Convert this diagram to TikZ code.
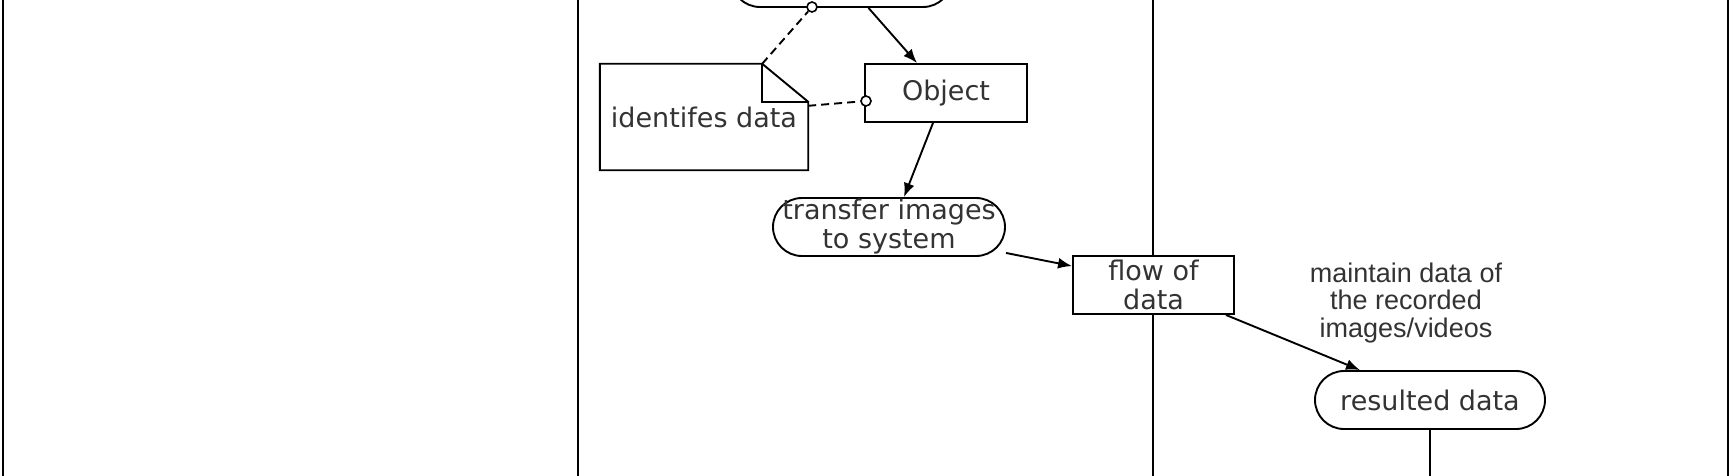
\documentclass[tikz,border=0pt]{standalone}
\usepackage{fontspec}
\setmainfont{DejaVu Sans}
\newfontfamily\labelfont{Liberation Sans}
\usetikzlibrary{arrows.meta}

\begin{document}
\begin{tikzpicture}[x=1pt, y=-1pt, >={Latex[length=14pt,width=11pt]},
  every node/.style={font=\fontsize{27}{29}\selectfont, text=black!80},
  box/.style={draw, fill=white, line width=1.9pt, minimum height=58pt, inner sep=0pt, align=center},
  pill/.style={box, rounded corners=29pt},
  dot/.style={draw, circle, fill=white, line width=1.6pt, minimum size=10pt, inner sep=0pt},
  arr/.style={->, line width=1.9pt},
  link/.style={line width=1.9pt, dash pattern=on 8pt off 5pt}]
\useasboundingbox (0,0) rectangle (1732,476);
% Lanes:
\draw[line width=2.6pt] (3,-10) -- (3,490);
\draw[line width=2pt] (578,-10) -- (578,490);
\draw[line width=2pt] (1153,-10) -- (1153,490);
\draw[line width=2.6pt] (1728,-10) -- (1728,490);
\node[pill, minimum width=221pt] (top) at (841.5,-22) {};
\node[box, minimum width=162pt] (obj) at (946,93) {Object};
\node[pill, minimum width=232pt] (transfer) at (889,227) {transfer images\\to system};
\node[box, minimum width=161pt] (dataflow) at (1153.5,285) {flow of\\data};
\node[pill, minimum width=230pt] (result) at (1430,400) {resulted data};
\node[align=center, font=\labelfont\fontsize{27}{27.5}\selectfont] (maintain) at (1406,303) {maintain data of\\the recorded\\images/videos};
\node[minimum width=208pt, minimum height=106pt, inner sep=0pt] (note) at (704,117) {identifes data};
\draw[line width=1.9pt] (note.south west) -- (note.north west) -- ([xshift=-46pt]note.north east)
  -- ([yshift=-38pt]note.north east) -- (note.south east) -- cycle;
\draw[line width=1.9pt] ([xshift=-46pt]note.north east) -- ([xshift=-46pt,yshift=-38pt]note.north east)
  -- ([yshift=-38pt]note.north east);
\coordinate (tail) at (1430,490);
% Connectors:
\draw[arr] ([xshift=27pt]top.south) -- ([xshift=-29pt]obj.north);
\draw[arr] ([xshift=-13pt]obj.south) -- ([xshift=15pt]transfer.north);
\draw[arr] ([yshift=4pt]transfer.south east) -- ([yshift=-11pt]dataflow.north west);
\draw[arr] ([xshift=-9pt]dataflow.south east) -- ([xshift=-70pt]result.north);
\draw[line width=1.9pt] (result.south) -- (tail);
% Notes:
\node[dot] (c1) at (812,7) {};
\node[dot] (c2) at (866,101) {};
\draw[link] ([xshift=-46pt]note.north east) -- (c1);
\draw[link] ([yshift=-42pt]note.north east) -- (c2);
\end{tikzpicture}
\end{document}
